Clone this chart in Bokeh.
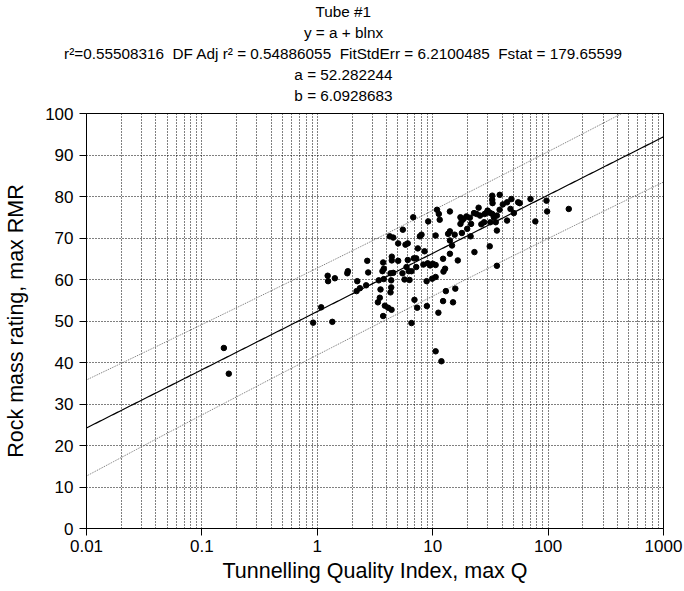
import numpy as np
from bokeh.plotting import figure
from bokeh.models import FixedTicker, CustomJSTickFormatter, Range1d, Title
from bokeh.embed import file_html
from bokeh.resources import INLINE

# ---------------- data ----------------
NB = " \u00a0"  # a visible double space
title_lines = [
    "Tube #1",
    "y = a + blnx",
    "r\u00b2=0.55508316" + NB + "DF Adj r\u00b2 = 0.54886055" + NB + "FitStdErr = 6.2100485" + NB + "Fstat = 179.65599",
    "a = 52.282244",
    "b = 6.0928683",
]
fit_a = 52.282244
fit_b = 6.0928683
fit_stderr = 6.2100485
t_value = 1.656

q_values = [
    0.155, 0.171, 0.92, 1.08, 1.23, 1.24, 1.35, 1.42, 1.84, 1.82,
    2.22, 2.34, 2.19, 2.65, 2.71, 2.76, 3.41, 3.53, 3.48, 3.35,
    3.72, 3.67, 3.77, 3.77, 3.85, 4.11, 4.40, 3.72, 4.25, 4.55,
    4.42, 4.42, 4.31, 4.55, 4.37, 4.37, 4.31, 5.02, 5.02, 5.47,
    5.51, 5.81, 6.08, 5.93, 6.08, 6.2, 6.55, 5.7, 6.3, 6.78,
    6.86, 7.19, 7.43, 6.95, 7.34, 6.55, 7.74, 8.0, 8.5, 7.2,
    8.3, 9.05, 9.5, 10.0, 10.6, 8.86, 8.9, 9.14, 10.6, 10.9,
    11.3, 11.5, 11.2, 10.6, 11.9, 12.3, 12.8, 12.4, 12.3, 13.0,
    14.1, 14.1, 13.6, 14.1, 14.7, 14.1, 15.5, 16.5, 15.7, 15.0,
    17.4, 17.9, 17.4, 18.5, 19.6, 21.0, 17.9, 19.9, 21.3, 21.5,
    22.8, 24.0, 25.0, 25.7, 23.0, 26.4, 27.9, 28.2, 29.6, 31.2,
    32.8, 33.9, 36.0, 31.6, 35.2, 36.0, 31.2, 36.0, 32.8, 32.8,
    33.0, 38.1, 38.0, 40.5, 44.1, 44.1, 47.2, 48.1, 50.5, 55.0,
    56.8, 70.4, 77.5, 96.8, 98.1, 151.0, 10.6, 9.9, 29.9,
]
rmr_values = [
    43.5, 37.3, 49.6, 53.3, 60.9, 59.6, 49.8, 60.3, 62.0, 61.5,
    59.6, 57.9, 57.2, 58.6, 64.5, 61.7, 59.8, 57.6, 55.6, 54.5,
    64.1, 62.0, 62.6, 60.1, 53.7, 53.2, 52.7, 51.2, 70.4, 70.1,
    65.5, 64.6, 61.5, 61.6, 59.8, 58.1, 56.9, 68.7, 64.5, 61.5,
    72.0, 68.4, 68.7, 63.0, 64.7, 62.0, 62.0, 60.0, 59.9, 75.0,
    65.1, 65.1, 67.5, 55.1, 53.2, 49.5, 70.4, 70.8, 66.8, 63.0,
    63.6, 63.9, 63.4, 63.8, 63.5, 59.6, 53.6, 74.0, 70.6, 76.8,
    75.8, 74.4, 52.0, 42.7, 40.3, 65.0, 62.6, 61.9, 54.8, 57.2,
    76.4, 71.6, 71.0, 69.4, 68.2, 66.2, 70.8, 64.6, 57.8, 54.5,
    75.0, 74.2, 73.4, 74.6, 75.2, 74.9, 71.2, 72.2, 70.4, 73.4,
    76.0, 75.8, 77.3, 75.4, 66.6, 73.3, 73.8, 75.8, 76.2, 76.1,
    75.8, 75.0, 75.4, 73.8, 73.8, 71.8, 68.0, 63.3, 80.2, 79.2,
    78.4, 80.4, 76.8, 78.1, 78.6, 74.2, 77.0, 79.4, 76.0, 78.6,
    78.4, 79.4, 74.0, 79.0, 76.4, 77.0, 60.6, 60.2, 76.6,
]
x_tick_values = [0.01, 0.1, 1, 10, 100, 1000]
y_tick_values = list(range(0, 101, 10))
x_label = "Tunnelling Quality Index, max Q"
y_label = "Rock mass rating, max RMR"

# ---------------- layout constants ----------------
W, H = 684, 591
LEFT, RIGHT, TOP, BOTTOM = 86, 21, 113, 63
XMIN, XMAX, YMIN, YMAX = 0.01, 1000.0, 0.0, 100.0
FONT = "Liberation Sans"
TITLE_SIZE = 15.3
TITLE_CENTER_X = 343

# approximate Arial/Liberation Sans advance widths (em) for centring titles
_W = {c: 0.556 for c in "0123456789#abdenuq"}
_W.update({".": 0.278, " ": 0.278, "\u00a0": 0.278, "=": 0.584, "+": 0.584,
           "T": 0.611, "y": 0.5, "x": 0.5, "s": 0.5, "l": 0.222, "i": 0.222,
           "j": 0.222, "t": 0.278, "r": 0.333, "\u00b2": 0.333, "D": 0.722,
           "F": 0.611, "A": 0.667, "S": 0.667, "E": 0.667})


def text_width(s, size):
    return sum(_W.get(c, 0.556) for c in s) * size


p = figure(width=W, height=H, x_axis_type="log",
           x_range=Range1d(XMIN, XMAX), y_range=Range1d(YMIN, YMAX),
           output_backend="svg", toolbar_location=None,
           min_border_left=LEFT, min_border_right=RIGHT,
           min_border_top=TOP, min_border_bottom=BOTTOM)
p.background_fill_color = "white"
p.border_fill_color = "white"
p.outline_line_color = "black"
p.outline_line_width = 1

# grids: dotted black at every log minor position and every 10 RMR
minor_pos = [m * 10.0 ** e for e in range(-2, 3) for m in range(1, 10)]
minor_pos = [v for v in minor_pos if XMIN < v < XMAX]
p.xgrid.ticker = FixedTicker(ticks=minor_pos)
p.ygrid.ticker = FixedTicker(ticks=[v for v in y_tick_values if YMIN < v < YMAX])
for g in (p.xgrid, p.ygrid):
    g.grid_line_color = "black"
    g.grid_line_dash = "1 2"
    g.grid_line_width = 1
    g.grid_line_alpha = 1.0

# axes
p.xaxis.ticker = FixedTicker(ticks=x_tick_values)
p.xaxis.formatter = CustomJSTickFormatter(code="return String(tick);")
p.yaxis.ticker = FixedTicker(ticks=y_tick_values)
for ax in (p.xaxis, p.yaxis):
    ax.major_tick_in = 0
    ax.major_tick_out = 7
    ax.minor_tick_line_color = None
    ax.major_tick_line_color = "black"
    ax.axis_line_color = "black"
    ax.major_label_text_font = FONT
    ax.major_label_text_font_size = "17px"
    ax.major_label_text_color = "black"
    ax.axis_label_text_font = FONT
    ax.axis_label_text_font_size = "21.5px"
    ax.axis_label_text_font_style = "normal"
    ax.axis_label_text_color = "black"
p.xaxis.axis_label = x_label
p.yaxis.axis_label = y_label
p.xaxis.major_label_standoff = 4
p.xaxis.axis_label_standoff = 4
p.yaxis.major_label_standoff = 6
p.yaxis.axis_label_standoff = 14

# fit line and 90% prediction band
qa = np.array(q_values, dtype=float)
lnq = np.log(qa)
n = len(qa)
sxx = np.sum((lnq - lnq.mean()) ** 2)
xs = np.logspace(np.log10(XMIN), np.log10(XMAX), 300)
fit = fit_a + fit_b * np.log(xs)
half = t_value * fit_stderr * np.sqrt(1 + 1.0 / n + (np.log(xs) - lnq.mean()) ** 2 / sxx)
p.line(xs, fit + half, line_color="#707070", line_width=1, line_dash="1 1")
p.line(xs, fit - half, line_color="#707070", line_width=1, line_dash="1 1")
p.line(xs, fit, line_color="black", line_width=1.2)

# data points
p.scatter(q_values, rmr_values, size=5.5, fill_color="black", line_color="black")

# title block: stacked titles above the frame (first added is nearest the frame)
p.title.visible = False
p.add_layout(Title(text=" ", text_font_size="5px", standoff=0, align="left"), "above")
for txt in reversed(title_lines):
    off = TITLE_CENTER_X - text_width(txt, TITLE_SIZE) / 2 - LEFT
    p.add_layout(Title(text=txt, align="left", offset=off, standoff=1.5,
                       text_font=FONT, text_font_size=f"{TITLE_SIZE}px",
                       text_font_style="normal", text_color="black",
                       vertical_align="middle"), "above")

open("out.html", "w").write(file_html(p, INLINE))
